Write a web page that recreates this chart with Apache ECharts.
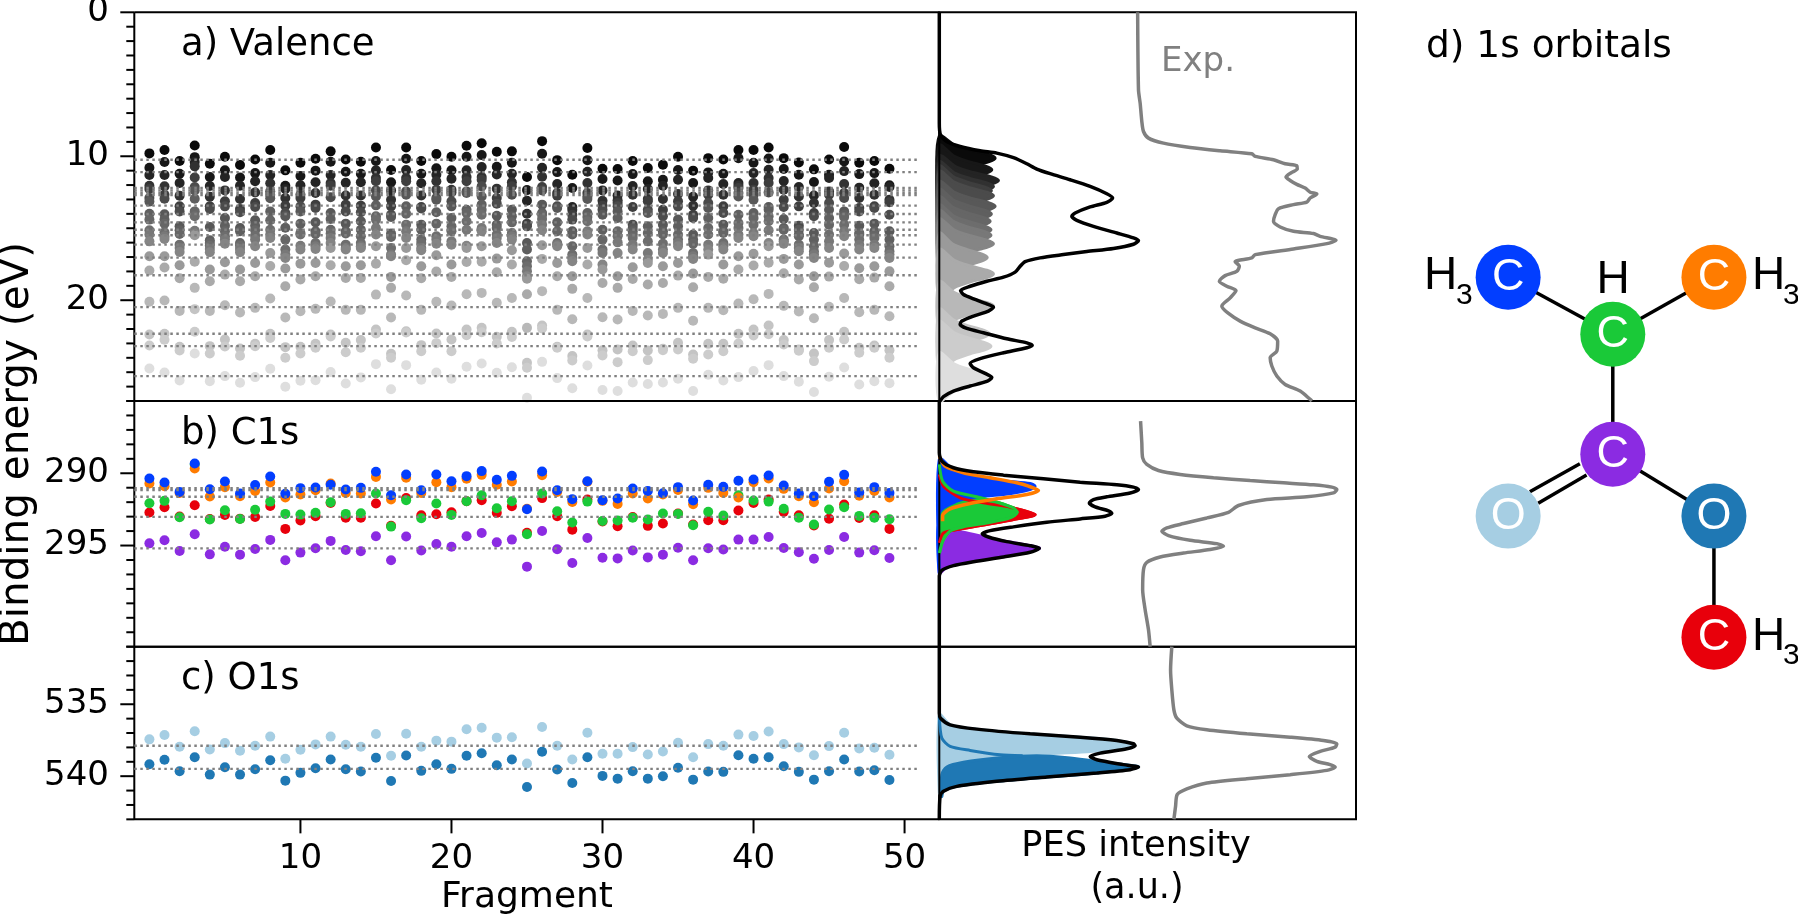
<!DOCTYPE html>
<html>
<head>
<meta charset="utf-8">
<title>PES</title>
<script src="https://cdn.jsdelivr.net/npm/echarts@6/dist/echarts.min.js"></script>
<style>
html,body{margin:0;padding:0;background:#fff;}
#chart{width:1798px;height:915px;}
</style>
</head>
<body>
<div id="chart"></div>
<script>
//valence levels per fragment (eV), level 1 = least bound
var level1 = [9.8,9.57,10.33,9.25,10.52,10.03,10.61,10.22,9.57,10.98,10.45,10.17,9.66,10.22,10.38,9.39,10.96,9.39,10.33,9.85,10.03,9.27,9.09,9.69,9.66,11.44,8.95,10.27,11.28,9.43,10.87,10.89,10.33,10.82,10.59,10.03,11,10.13,10.22,9.57,9.57,9.39,10.13,10.43,10.91,10.22,9.36,10.45,10.33,10.87];
var level2 = [10.8,10.4,11.21,10.06,11.44,10.98,11.47,11.17,10.45,12.05,11.37,11,10.38,11.07,11.21,10.33,11.81,10.17,11.21,10.84,10.98,10.03,9.92,10.73,10.45,12.35,9.83,11.1,12.21,10.27,11.58,11.68,11.24,11.74,11.63,10.96,11.86,11.12,11.21,10.13,10.45,10.15,10.89,11.28,11.79,11.28,10.36,11.24,11.17,12.02];
var level3 = [11.3,11.3,11.86,10.4,12.07,11.44,12.05,11.74,11.3,12.28,12.02,11.81,11.3,11.84,11.81,10.98,12.37,10.96,11.88,11.28,11.56,10.98,10.75,11.26,11.21,13.09,10.8,11.93,13.52,11.07,12.37,12.72,12.07,12.28,12.05,11.63,12.81,11.51,11.93,11.86,11.17,10.94,11.72,12.14,12.72,11.51,11.03,12.18,11.88,12.14];
var level4 = [12.05,12.09,12.74,10.7,12.81,12.37,12.97,12.51,11.88,12.9,12.67,12.55,11.86,12.72,12.72,11.51,13.02,11.51,12.72,11.74,12.32,11.44,11.44,12.25,11.81,13.99,11.42,12.55,13.71,11.86,13.09,13.06,12.67,12.97,12.97,12.62,13.43,12.37,12.67,12.05,11.86,11.51,12.32,12.79,13.25,12.44,11.93,12.9,12.67,13.02];
var level5 = [12.28,12.67,13.48,11.47,13.48,13.13,13.66,13.25,12.44,13.43,12.9,13.36,12.05,13.36,13.43,11.74,13.48,11.74,13.52,12.32,12.51,11.74,11.63,12.9,12.09,14.68,12.14,12.74,14.06,12.55,13.43,13.25,13.52,13.13,13.71,13.13,14.06,12.67,13.48,12.21,12.32,11.86,13.02,13.48,13.94,12.67,12.55,13.59,13.48,13.2];
var level6 = [12.9,12.95,13.83,12.14,13.66,13.48,13.89,13.52,12.67,13.94,13.48,13.59,12.85,13.83,13.89,12.37,14.06,12.44,13.62,12.9,13.13,12.44,12.09,13.29,12.67,14.87,12.37,13.48,14.4,12.79,13.71,13.48,14.75,13.71,14.17,13.48,14.29,13.25,13.94,12.55,12.67,12.51,13.52,14.82,14.17,13.25,12.9,13.83,13.59,14.06];
var level7 = [13.15,14.03,14.87,12.37,14.91,14.29,14.98,14.45,12.92,14.17,13.83,14.59,13.94,14.68,14.52,12.79,14.22,12.67,14.75,13.02,13.48,12.55,12.79,14.13,13.71,16.02,13.36,13.59,15.21,12.97,14.06,13.83,14.98,13.94,14.75,14.4,15.44,13.59,14.75,12.79,13.02,13.52,14.36,15.1,15.33,13.71,13.83,14.82,14.68,15.21];
var level8 = [13.99,14.4,15.14,12.95,15.84,14.82,15.21,14.82,13.83,14.96,14.68,15.21,14.36,15.21,15.1,13.41,15.37,13.48,15.1,13.89,14.29,13.71,13.36,14.75,14.17,16.48,13.94,14.59,15.44,13.94,15.1,14.29,15.21,14.87,15.21,14.87,15.79,14.29,15.21,14.06,13.94,13.71,14.98,15.44,15.79,14.29,14.06,15.33,15.21,15.79];
var level9 = [14.4,14.68,15.4,13.83,16.02,15.21,16.02,15.14,14.45,15.79,15.33,15.4,15.1,15.37,15.56,14.17,15.61,13.99,15.79,14.68,14.87,13.94,13.71,14.98,14.59,17.29,14.06,15.21,16.25,14.22,15.79,15.21,15.44,15.33,15.44,15.44,16.07,14.98,15.33,14.63,14.29,14.17,15.1,15.56,16.25,14.75,14.22,15.44,15.44,16.25];
var level10 = [15.14,15.28,16.14,14.17,16.21,15.56,16.21,15.51,15.1,16.48,15.44,16.02,15.37,16.14,16.02,14.4,16.37,14.75,16.02,15.56,15.21,14.52,14.06,15.44,15.33,17.64,14.36,16.02,16.83,14.52,16.48,15.56,15.67,15.91,16.07,15.79,16.72,15.44,16.02,14.98,14.75,14.52,15.79,16.14,16.6,15.44,14.75,15.79,15.67,16.6];
var level11 = [15.44,15.56,16.37,15.17,16.44,15.79,16.44,15.79,15.44,16.83,16.21,16.25,15.67,16.37,16.25,14.98,16.83,15.21,16.37,15.79,15.91,15.1,14.98,15.67,15.56,17.99,14.75,16.14,17.06,15.21,16.72,15.98,16.14,16.72,16.48,16.02,16.95,16.14,16.25,15.44,15.33,15.14,15.91,16.37,16.83,15.91,15.21,16.14,16.14,16.83];
var level12 = [15.91,15.74,16.65,15.4,16.67,16.07,16.67,16.25,15.67,17.06,16.48,16.44,16.02,16.48,16.37,15.44,16.95,15.67,16.53,16.07,16.14,16.21,15.21,16.02,15.79,18.33,15.14,16.25,17.29,15.44,17.52,16.72,16.48,17.18,16.72,16.25,17.13,16.48,16.48,15.67,15.56,16.02,16.07,16.6,17.06,16.37,15.56,16.48,16.37,17.06];
var level13 = [16.95,16.95,17.57,15.49,17.87,17.36,17.87,17.41,16.72,17.8,17.46,17.41,16.37,17.64,17.57,16.25,18.38,16.37,17.64,16.88,17.52,16.37,16.25,17.11,16.53,18.5,16.18,17.41,18.33,16.37,17.87,18.33,17.71,17.41,17.64,17.41,18.15,16.83,17.52,16.95,16.78,16.25,17.13,17.52,18.33,17.39,16.76,17.78,17.64,17.99];
var level14 = [17.94,17.73,18.47,17.32,18.68,18.22,18.68,18.33,17.62,19.03,18.56,18.33,17.57,18.45,18.45,17.46,19.14,17.22,18.47,18.01,18.38,17.34,17.32,18.06,17.52,19.58,17.13,18.33,19.21,17.52,18.8,19.14,18.52,18.91,18.8,18.29,19.1,18.38,18.5,17.87,17.59,17.39,18.13,18.56,19.1,18.36,17.62,18.54,18.43,19.03];
var level15 = [20.11,20.02,20.74,19.14,20.74,20.35,20.85,20.53,19.88,21.2,20.76,20.6,20.09,20.67,20.67,19.61,21.2,19.67,20.67,20.11,20.37,19.58,19.49,20.18,19.84,21.92,19.37,20.67,21.32,19.84,21.18,21.34,20.74,21.06,20.95,20.53,21.43,20.53,20.69,20.23,19.93,19.56,20.39,20.78,21.25,20.46,19.84,20.83,20.67,21.11];
var level16 = [22.38,22.33,23.24,20.62,23.19,22.73,23.35,23.03,22.33,23.26,23.24,23.03,22.38,22.96,22.77,22.03,23.72,22.15,23.12,22.31,22.73,22.03,21.92,22.54,22.19,24.34,21.76,23.24,23.88,22.38,23.47,23.42,23.14,23.49,23.37,22.96,23.77,23.03,23.03,22.33,22.03,21.76,22.77,23.42,23.7,22.77,22.19,23.3,23.14,23.47];
var level17 = [23.14,22.75,23.49,22.19,23.7,23.21,23.86,23.19,22.63,23.99,23.7,23.3,22.52,23.61,23.3,22.31,23.99,22.24,23.54,22.98,23.54,22.43,22.22,23,22.56,24.69,21.96,23.3,24.18,22.52,23.84,24.3,23.54,24.16,23.47,23.42,24.07,23.77,23.54,23,22.45,22.36,23.07,23.51,24.23,23.3,22.73,23.65,23.3,23.99];
var level18 = [24.74,25.02,25.57,23.7,25.62,25.27,25.73,25.34,24.76,26.01,25.59,25.55,24.99,25.78,25.36,24.44,26.19,24.51,25.52,25.02,25.45,24.62,24.39,25.04,24.65,26.77,24.28,25.41,26.12,24.53,26.24,26.31,25.71,25.82,25.71,25.45,26.31,25.18,25.57,25.34,24.92,24.51,25.27,25.66,26.38,25.32,24.67,25.85,25.62,25.76];
var levels = [level1,level2,level3,level4,level5,level6,level7,level8,level9,level10,level11,level12,level13,level14,level15,level16,level17,level18];
var refValence = [10.24,11.1,12.2,12.37,12.53,12.69,13.43,14.01,14.59,15.1,15.49,16.14,17.04,18.26,20.48,22.33,23.19,25.27];

//C1s per fragment
var c1sPurple = [294.85,294.64,295.38,294.22,295.61,295.08,295.63,295.24,294.61,296.02,295.49,295.19,294.68,295.31,295.4,294.36,296.02,294.38,295.35,294.89,295.08,294.36,294.13,294.78,294.59,296.46,293.99,295.26,296.21,294.48,295.84,295.89,295.35,295.82,295.63,295.15,296.02,295.19,295.28,294.59,294.59,294.41,295.17,295.47,295.91,295.31,294.41,295.49,295.33,295.86];
var c1sRed = [292.72,292.35,293,292.21,293.16,292.88,293.14,293.02,292.26,293.85,293.27,292.97,292.05,293.07,293.07,292.09,293.64,291.72,292.9,292.83,292.7,291.93,291.86,292.74,292.28,294.11,291.72,292.97,293.9,291.82,293.34,293.67,293.02,293.64,293.48,292.79,293.55,293.25,293.25,292.58,292.05,291.82,292.67,292.9,293.62,293.14,292.16,293.09,292.9,293.85];
var c1sGreen = [292.07,291.91,293.04,289.39,293.2,292.56,293.16,292.53,291.96,292.81,292.86,292.74,292,292.81,292.77,291.4,293.69,291.86,293.11,292.09,292.88,291.93,291.52,292.42,291.93,294.22,291.4,292.63,293.41,291.96,293.3,293.27,293.07,293.2,292.79,292.81,293.6,292.67,292.93,291.52,291.89,291.96,292.46,293.07,293.55,292.51,292.35,292.95,293.07,293.18];
var c1sOrange = [290.71,290.89,291.36,289.67,291.61,290.96,291.59,291.22,290.64,291.68,291.47,291.17,290.71,291.36,291.4,290.25,291.82,290.31,291.36,290.62,290.96,290.38,290.11,290.8,290.57,292.46,290.13,291.29,291.98,290.59,291.91,292.12,291.4,291.75,291.47,291.15,292.14,291.01,291.36,291.68,290.62,290.36,291.08,291.59,292,291.05,290.55,291.56,291.22,291.68];
var c1sBlue = [290.36,290.64,291.29,289.32,291.1,290.57,291.4,290.82,290.22,291.42,291.03,290.99,290.8,291.12,291.01,289.9,291.52,290.08,291.17,290.08,290.55,290.2,289.85,290.45,290.18,292.49,289.88,291.17,291.79,290.55,291.86,291.75,291.05,291.22,291.38,290.96,291.89,290.8,290.94,290.52,290.43,290.15,290.85,291.4,291.59,290.59,290.11,291.33,290.96,291.36];
var refC1s = [291.03,291.17,291.63,293.02,295.2];

//O1s per fragment
var o1sLight = [537.44,537.14,537.95,536.88,538.14,537.7,538.23,537.88,537.25,538.79,538.16,537.79,537.25,537.81,537.95,537.07,538.58,537.05,537.95,537.53,537.6,536.74,536.63,537.32,537.3,539.12,536.58,537.88,538.84,536.98,538.44,538.44,537.98,538.49,538.28,537.67,538.68,537.77,537.88,537.11,537.21,536.9,537.77,538,538.54,537.91,536.98,538.07,538.02,538.51];
var o1sDark = [539.17,538.86,539.66,538.68,539.89,539.38,539.89,539.52,538.89,540.31,539.77,539.45,538.84,539.52,539.68,538.72,540.33,538.56,539.63,539.17,539.49,538.58,538.4,539.24,538.84,540.75,538.3,539.54,540.47,538.68,539.98,540.17,539.66,540.17,540,539.42,540.24,539.68,539.7,538.54,538.79,538.68,539.31,539.7,540.24,539.66,538.84,539.68,539.59,540.26];
var refO1s = [537.88,539.49];

//orbital spectra [intensity, eV], valence panel
var dos1 = [[0,8.6],[3.8,9.24],[7.8,9.58],[11.8,9.88],[13.4,10.13],[11.8,10.38],[7.8,10.68],[3.8,11.08],[0,11.83]];
var dos2 = [[0,9.24],[3.5,9.99],[7.3,10.39],[11.1,10.69],[12.6,10.94],[11.1,11.19],[7.3,11.49],[3.5,11.89],[0,12.64]];
var dos3 = [[0,9.98],[4,10.73],[8.2,11.13],[12.5,11.43],[14.2,11.68],[12.5,11.93],[8.2,12.23],[4,12.63],[0,13.38]];
var dos4 = [[0,10.4],[3.6,11.15],[7.5,11.55],[11.4,11.85],[13,12.1],[11.4,12.35],[7.5,12.65],[3.6,13.05],[0,13.8]];
var dos5 = [[0,10.7],[3.5,11.45],[7.3,11.85],[11,12.15],[12.5,12.4],[11,12.65],[7.3,12.95],[3.5,13.35],[0,14.1]];
var dos6 = [[0,11.05],[3.6,11.8],[7.5,12.2],[11.4,12.5],[13,12.75],[11.4,13],[7.5,13.3],[3.6,13.7],[0,14.45]];
var dos7 = [[0,11.78],[3.8,12.53],[7.8,12.93],[11.8,13.23],[13.4,13.48],[11.8,13.73],[7.8,14.03],[3.8,14.43],[0,15.18]];
var dos8 = [[0,12.31],[3.5,13.06],[7.3,13.46],[11,13.76],[12.5,14.01],[11,14.26],[7.3,14.56],[3.5,14.96],[0,15.71]];
var dos9 = [[0,12.82],[3.4,13.57],[7.1,13.97],[10.7,14.27],[12.2,14.52],[10.7,14.77],[7.1,15.07],[3.4,15.47],[0,16.22]];
var dos10 = [[0,13.4],[3.5,14.15],[7.2,14.55],[10.9,14.85],[12.4,15.1],[10.9,15.35],[7.2,15.65],[3.5,16.05],[0,16.8]];
var dos11 = [[0,13.79],[3.5,14.54],[7.2,14.94],[10.9,15.24],[12.4,15.49],[10.9,15.74],[7.2,16.04],[3.5,16.44],[0,17.19]];
var dos12 = [[0,14.37],[3.6,15.12],[7.5,15.52],[11.4,15.82],[13,16.07],[11.4,16.32],[7.5,16.62],[3.6,17.02],[0,17.77]];
var dos13 = [[0,15.34],[3.2,16.09],[6.7,16.49],[10.1,16.79],[11.5,17.04],[10.1,17.29],[6.7,17.59],[3.2,17.99],[0,18.74]];
var dos14 = [[0,16.47],[3.6,17.22],[7.5,17.62],[11.4,17.92],[13,18.17],[11.4,18.42],[7.5,18.72],[3.6,19.12],[0,19.87]];
var dos15 = [[0,18.71],[3.6,19.46],[7.5,19.86],[11.4,20.16],[13,20.41],[11.4,20.66],[7.5,20.96],[3.6,21.36],[0,22.11]];
var dos16 = [[0,20.63],[3.4,21.38],[7,21.78],[10.6,22.08],[12,22.33],[10.6,22.58],[7,22.88],[3.4,23.28],[0,24.03]];
var dos17 = [[0,21.49],[3.5,22.24],[7.2,22.64],[10.9,22.94],[12.4,23.19],[10.9,23.44],[7.2,23.74],[3.5,24.14],[0,24.89]];
var dos18 = [[0,23.66],[3.5,24.41],[7.3,24.81],[11.1,25.11],[12.6,25.36],[11.1,25.61],[7.3,25.91],[3.5,26.31],[0,27]];
var dosList = [dos1,dos2,dos3,dos4,dos5,dos6,dos7,dos8,dos9,dos10,dos11,dos12,dos13,dos14,dos15,dos16,dos17,dos18];

var sumValence = [[0,0],[0,7.7],[0.3,8.51],[1.8,8.97],[5,9.32],[9.8,9.62],[13.8,9.78],[17.8,10.1],[21,10.52],[23.4,10.89],[26.6,11.21],[31.4,11.63],[36.2,12.09],[40.2,12.6],[41.6,12.9],[40.2,13.2],[36.2,13.52],[32.6,13.94],[31.8,14.17],[33,14.45],[37,14.87],[42.6,15.33],[46.6,15.67],[47.8,15.86],[46.6,16.11],[41.8,16.41],[35.4,16.62],[29.8,16.83],[24.2,17.06],[20.6,17.32],[19.4,17.64],[18.2,18.05],[15.4,18.4],[11.4,18.68],[7.4,19.03],[5.1,19.33],[5.8,19.6],[8.2,19.9],[11.4,20.25],[13,20.48],[11.8,20.76],[8.2,21.1],[5.4,21.45],[5,21.68],[6.6,21.96],[10.6,22.26],[16.2,22.68],[21,22.96],[22.3,23.12],[21,23.3],[15.4,23.65],[9.8,24.06],[7.4,24.39],[8.2,24.69],[11,25.08],[12.6,25.36],[11.4,25.64],[7.4,25.96],[3.4,26.31],[1,26.7],[0.2,27]];
var expValence = [[47.6,0],[47.8,5.39],[48.2,6.31],[48.6,7.58],[49,8.28],[50.2,8.74],[53.8,9.09],[60.2,9.39],[67.4,9.62],[75,9.83],[75.8,10.01],[80.2,10.24],[83,10.52],[85.8,10.66],[85.9,10.89],[84.6,11.12],[83.2,11.44],[84.2,11.68],[85.8,11.95],[87.8,12.21],[89,12.5],[90.6,12.62],[89,12.9],[88.2,13.18],[85,13.36],[81.4,13.64],[80.6,14.06],[80.2,14.52],[81.8,14.91],[85,15.21],[89.8,15.37],[91.4,15.56],[95.2,15.84],[93,16.07],[85,16.44],[75.8,16.83],[75,17.06],[71,17.32],[72,17.64],[71.4,17.99],[68.6,18.29],[67.2,18.68],[69,19.03],[71.2,19.33],[69.8,19.84],[67.8,20.41],[69.4,20.92],[72.2,21.45],[75.8,21.92],[79.4,22.33],[81.2,22.84],[81,23.53],[79.4,24],[79.8,24.57],[81,25.27],[83,25.85],[86.6,26.31],[89,26.89],[89.4,27]];

//C1s spectra
var dosPurple = [[0,290.2],[0.2,292.74],[1.4,293.71],[3.4,293.94],[5.8,294.08],[13.8,294.59],[24,295.17],[21.8,295.4],[13.8,295.79],[5.8,296.21],[1.8,296.49],[0,296.9]];
var dosBlue = [[0,289.04],[4.2,289.97],[9.8,290.31],[16.2,290.55],[21.8,290.71],[23,290.89],[21.8,291.12],[15.4,291.47],[9,291.63],[4.2,291.93],[0,292.74],[0,296.9]];
var dosRed = [[0,290.08],[1,290.89],[5,291.7],[10.6,292.05],[17,292.35],[23,292.86],[17.8,293.2],[9.8,293.62],[4.2,293.9],[1,294.13],[0,294.82]];
var dosGreen = [[0,289.39],[0.8,290.55],[3.4,291.24],[9,291.63],[13.8,292],[17.8,292.4],[18.7,292.7],[17,293.09],[11.4,293.44],[5.8,293.71],[2.6,294],[0.8,294.71],[0,295.52]];
var dosOrange = [[0,288.81],[1.4,289.51],[5.8,289.97],[12.2,290.31],[18.6,290.66],[21.4,290.89],[23.8,291.19],[21,291.47],[13.8,291.77],[7.4,292.09],[2.6,292.46],[0.8,292.93],[0.8,293.32]];
var sumC1s = [[0,285],[0,288.58],[0.6,289.16],[3.4,289.62],[8.2,289.9],[15.4,290.13],[25,290.38],[33.8,290.62],[42.6,290.8],[46.6,290.96],[47.8,291.12],[45.8,291.36],[40.2,291.63],[37,291.82],[36,292.05],[37.4,292.33],[40.6,292.6],[41.4,292.77],[39.8,292.97],[33.8,293.16],[25.8,293.39],[17.8,293.71],[12.2,293.97],[10.3,294.18],[11.8,294.41],[16.2,294.73],[21.8,295.01],[24,295.19],[21.8,295.47],[15.4,295.79],[8.2,296.12],[3.4,296.39],[0.6,296.72],[0,297.13],[0,302]];
var expC1s = [[48.3,286.39],[48.6,287.89],[48.8,288.93],[49.8,289.39],[52.6,289.81],[57.8,290.08],[65.8,290.31],[74.6,290.5],[82.6,290.66],[89.8,290.8],[94.2,290.96],[95.4,291.12],[94.6,291.36],[88.2,291.63],[78.6,291.82],[71.8,292.23],[69.4,292.7],[64.2,293.09],[58.6,293.48],[54.6,293.78],[53.4,294.01],[55,294.31],[60.2,294.64],[66.6,294.87],[68.2,295.05],[65,295.28],[58.6,295.52],[53,295.79],[49.8,296.16],[49,296.67],[48.8,298.06],[49.4,299.44],[50.2,300.83],[50.6,302]];

//O1s spectra
var dosLight = [[0,535.74],[2.6,536.43],[9,536.73],[21.8,537.06],[33.8,537.29],[42.6,537.52],[46.8,537.82],[42.6,538.1],[35.4,538.3],[25.8,538.44],[15.4,538.58],[5.8,538.97],[1.4,539.44],[0.6,540.48],[0,541.17]];
var dosDark = [[0.6,541.4],[0.6,539.9],[1.8,539.37],[5.8,539.04],[13.8,538.74],[23.4,538.58],[31.4,538.74],[39.4,539.04],[47.8,539.37],[37.8,539.78],[25.8,540.06],[13.8,540.36],[4.2,540.71],[1,541.05]];
var tailDark = [[0,535.85],[0.6,537.35],[2.6,537.93],[7.4,538.21],[14.6,538.51],[20,538.58]];
var sumO1s = [[0,531],[0,535.62],[0.3,535.97],[2.6,536.43],[9,536.73],[21.8,537.06],[33.8,537.29],[42.6,537.52],[46.6,537.75],[47,537.89],[45,538.1],[38.6,538.4],[36.2,538.63],[37.8,538.86],[44.2,539.2],[47.8,539.37],[45.8,539.55],[37.8,539.78],[25.8,540.06],[13.8,540.36],[4.2,540.71],[1,541.05],[0.2,541.4],[0,543]];
var expO1s = [[55.8,531],[55.5,532.62],[55.8,534],[56.3,535.39],[57,535.97],[59.4,536.5],[64.2,536.78],[73.8,537.06],[84.2,537.29],[92.2,537.52],[95.4,537.75],[95,537.98],[91.4,538.28],[88.8,538.63],[90.6,538.97],[93.8,539.2],[95,539.37],[93,539.6],[84.2,539.9],[73.8,540.18],[64.2,540.48],[59.4,540.89],[57.1,541.28],[56.7,542.09],[56.3,543]];

//molecule, panel d
var atomNames = ['C','C','C','C','O','O','C'];
var atomX = [-1.017,0.983,0,0,-1.017,0.983,0.983];
var atomY = [0,0,0.475,1.475,1.99,1.99,3];
var bonds = [[0,2],[1,2],[2,3],[3,5],[5,6]];
var doubleBond = [[[-0.806,1.787],[-0.32,1.553]],[[-0.725,1.883],[-0.255,1.648]]];

//axis ticks
var fragTicks = [10,20,30,40,50];
var yRanges = [[0,27],[285,302],[531,543]];
var yMajor = [[0,10,20],[290,295],[535,540]];

var fragments = [];
for(var f=0;f<50;f++){ fragments.push(f); }

var colors = {blue:'#023eff',orange:'#ff7c00',green:'#1ac938',red:'#e8000b',purple:'#8b2be2',light:'#a6cee3',dark:'#1f78b4'};
var grays = ['#0a0a0a','#171717','#242424','#313131','#3e3e3e','#4b4b4b','#585858','#5f5f5f','#666666','#6d6d6d','#787878','#858585','#9a9a9a','#aaaaaa','#b8b8b8','#c4c4c4','#cccccc','#dedede'];
var fontName = '"DejaVu Sans"';
var atomColors = [colors.blue,colors.orange,colors.green,colors.purple,colors.light,colors.dark,colors.red];

var series = [];

//dotted reference levels
function addRefs(refs, idx){
	for(var i=0;i<refs.length;i++){
		series.push({
			type:'line', xAxisIndex:idx, yAxisIndex:idx, showSymbol:false, silent:true,
			data:[[-1,refs[i]],[50.9,refs[i]]],
			lineStyle:{color:'#808080',width:2.4,type:[2.5,3.5]}
		});
	}
}

function addDots(values, color, idx){
	series.push({
		type:'scatter', xAxisIndex:idx, yAxisIndex:idx, symbolSize:10,
		data:fragments.map(function(x,i){ return [x,values[i]]; }),
		itemStyle:{color:color,opacity:1}
	});
}

function addFill(points, color, idx){
	series.push({
		type:'custom', xAxisIndex:idx, yAxisIndex:idx, clip:false,
		encode:{x:0,y:1}, data:points,
		renderItem:function(params, api){
			if(params.dataIndex!==0){ return; }
			var pts = points.map(function(p){ return api.coord(p); });
			return {type:'polygon', shape:{points:pts,smooth:0.3}, style:{fill:color,stroke:color,lineWidth:3}};
		}
	});
}

function addCurve(points, color, width, idx){
	series.push({
		type:'line', xAxisIndex:idx, yAxisIndex:idx, showSymbol:false, silent:true, smooth:0.25, clip:true,
		data:points, lineStyle:{color:color,width:width}
	});
}

//panel frame on the left side, the grids there run past it to hold the ticks
yRanges.forEach(function(r,i){
	series.push({
		type:'line', xAxisIndex:i, yAxisIndex:i, showSymbol:false, silent:true, clip:false,
		data:[[-1,r[0]],[52.3,r[0]],[52.3,r[1]],[-1,r[1]],[-1,r[0]]],
		lineStyle:{color:'#000',width:2}
	});
});

//a) valence
addRefs(refValence,0);
for(var n=0;n<levels.length;n++){ addDots(levels[n],grays[n],0); }
//b) C1s
addRefs(refC1s,1);
addDots(c1sPurple,colors.purple,1);
addDots(c1sRed,colors.red,1);
addDots(c1sGreen,colors.green,1);
addDots(c1sOrange,colors.orange,1);
addDots(c1sBlue,colors.blue,1);
//c) O1s
addRefs(refO1s,2);
addDots(o1sLight,colors.light,2);
addDots(o1sDark,colors.dark,2);

//right panels
for(var d=0;d<dosList.length;d++){ addFill(dosList[d],grays[d],3); }
addCurve(sumValence,'#000',3.5,3);
addCurve(expValence,'#808080',3.5,3);

addFill(dosPurple,colors.purple,4);
addFill(dosRed,colors.red,4);
addFill(dosGreen,colors.green,4);
addFill(dosBlue,colors.blue,4);
addCurve(dosRed,colors.red,3,4);
addCurve(dosGreen,colors.green,3,4);
addCurve(dosOrange,colors.orange,3.5,4);
addCurve(sumC1s,'#000',3.5,4);
addCurve(expC1s,'#808080',3.5,4);

addFill(dosLight,colors.light,5);
addFill(dosDark,colors.dark,5);
addCurve(tailDark,colors.dark,3,5);
addCurve(sumO1s,'#000',3.5,5);
addCurve(expO1s,'#808080',3.5,5);

//molecule
bonds.forEach(function(b){
	series.push({type:'line',xAxisIndex:6,yAxisIndex:6,showSymbol:false,silent:true,
		data:[[atomX[b[0]],atomY[b[0]]],[atomX[b[1]],atomY[b[1]]]],lineStyle:{color:'#000',width:3.5}});
});
doubleBond.forEach(function(b){
	series.push({type:'line',xAxisIndex:6,yAxisIndex:6,showSymbol:false,silent:true,
		data:b,lineStyle:{color:'#000',width:3.5}});
});
series.push({
	type:'scatter', xAxisIndex:6, yAxisIndex:6, symbolSize:65, z:5,
	data:atomNames.map(function(name,i){
		return {value:[atomX[i],atomY[i]],name:name,itemStyle:{color:atomColors[i],opacity:1}};
	}),
	label:{show:true,position:'inside',formatter:'{b}',color:'#fff',fontFamily:'"Liberation Sans"',fontSize:45}
});

var rightFrames = [{top:12.3,height:388.7},{top:401,height:245.7},{top:646.7,height:172.6}];
//left grids start 14px before the spine, the lowest one ends 14px under it
var grids = [
	{left:120,width:819.3,top:12.3,height:388.7,outerBoundsMode:'none',show:false},
	{left:120,width:819.3,top:401,height:245.7,outerBoundsMode:'none',show:false},
	{left:120,width:819.3,top:646.7,height:186.6,outerBoundsMode:'none',show:false}
];
var xAxes = [], yAxes = [];
rightFrames.forEach(function(fr){
	grids.push({left:939.3,width:416.7,top:fr.top,height:fr.height,outerBoundsMode:'none',show:true,borderColor:'#000',borderWidth:2,backgroundColor:'transparent'});
});
grids.push({left:1407,width:391,top:217.3,height:480,outerBoundsMode:'none',show:false});

function hiddenX(idx,min,max){
	return {type:'value',gridIndex:idx,min:min,max:max,show:false};
}
xAxes.push(hiddenX(0,-1.947,52.3));
xAxes.push(hiddenX(1,-1.947,52.3));
xAxes.push({
	type:'value',gridIndex:2,min:-1.947,max:52.3,position:'bottom',splitLine:{show:false},
	axisLine:{show:false,onZero:false},axisTick:{show:false},
	axisLabel:{customValues:fragTicks,fontFamily:fontName,fontSize:34,color:'#000',margin:9}
});
xAxes.push(hiddenX(3,0,100));
xAxes.push(hiddenX(4,0,100));
xAxes.push(hiddenX(5,0,100));
xAxes.push(hiddenX(6,-2,1.8));

var yLimits = [[0,27],[285,302],[531,543.97]];
yLimits.forEach(function(r,i){
	yAxes.push({
		type:'value',gridIndex:i,min:r[0],max:r[1],inverse:true,position:'left',
		splitLine:{show:false},axisLine:{show:false,onZero:false},axisTick:{show:false},
		axisLabel:{customValues:yMajor[i],fontFamily:fontName,fontSize:34,color:'#000',margin:11}
	});
});
yRanges.forEach(function(r,i){
	yAxes.push({type:'value',gridIndex:3+i,min:r[0],max:r[1],inverse:true,show:false});
});
yAxes.push({type:'value',gridIndex:6,min:-0.5,max:3.5,inverse:true,show:false});

function label(text,x,y,size,opt){
	opt = opt || {};
	return {
		type:'text', x:x, y:y, rotation:opt.rotation||0, z:20,
		style:{text:text,font:(size+'px '+(opt.family||fontName)),fill:opt.fill||'#000',textAlign:opt.align||'left',textVerticalAlign:'middle'}
	};
}
var sans = '"Liberation Sans"';
var texts = [
	label('a) Valence',181,45,37),
	label('b) C1s',181,434,37),
	label('c) O1s',181,679,37),
	label('Binding energy (eV)',17,444,40.5,{rotation:Math.PI/2,align:'center'}),
	label('Fragment',527,898,36,{align:'center'}),
	label('PES intensity',1136,847,35.2,{align:'center'}),
	label('(a.u.)',1137,889,35,{align:'center'}),
	label('Exp.',1161,62,34,{fill:'#808080'}),
	label('d) 1s orbitals',1426,47,37.5),
	label('H',1424,276,46,{family:sans}),
	label('3',1456,296,30,{family:sans}),
	label('H',1752,276,46,{family:sans}),
	label('3',1783,296,30,{family:sans}),
	label('H',1613,280,46,{family:sans,align:'center'}),
	label('H',1752,637,46,{family:sans}),
	label('3',1783,656,30,{family:sans})
];

var myChart = echarts.init(document.getElementById('chart'));
myChart.setOption({
	animation:false,
	grid:grids,
	xAxis:xAxes,
	yAxis:yAxes,
	series:series,
	graphic:{elements:texts}
});

//tick marks, placed from the axis scales once the grids exist
function tickLine(a, b){
	return {type:'line', z:30, silent:true,
		shape:{x1:a[0],y1:a[1],x2:b[0],y2:b[1]},
		style:{stroke:'#000',lineWidth:2}};
}
var tickEls = [];
yRanges.forEach(function(r,i){
	for(var v=r[0];v<=r[1];v++){
		var p = myChart.convertToPixel({gridIndex:i},[-1,v]);
		var len = yMajor[i].indexOf(v)<0 ? 8 : 14;
		tickEls.push(tickLine(p,[p[0]-len,p[1]]));
	}
});
fragTicks.forEach(function(v){
	var p = myChart.convertToPixel({gridIndex:2},[v,543]);
	tickEls.push(tickLine(p,[p[0],p[1]+14]));
});
myChart.setOption({graphic:{elements:texts.concat(tickEls)}});
</script>
</body>
</html>
